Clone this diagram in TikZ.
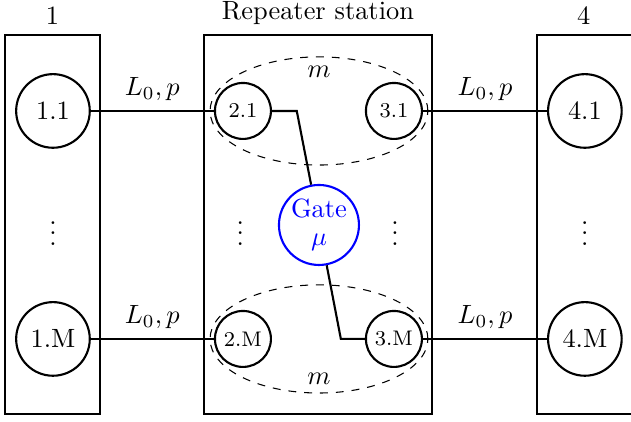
\documentclass[tikz,border=0pt]{standalone}
\usepackage{amsmath,amssymb}
\usepackage{tikz}
\usetikzlibrary{shapes.geometric,positioning,calc}
\usepackage{xcolor}
\tikzset{
    % Station boxes, sharp corners
    stationbox/.style={
        rectangle,
        draw=black,
        thick,
        minimum height=5.05cm,
        inner sep=0pt
    },
    bigqubit/.style={
        circle,
        draw=black,
        thick,
        minimum size=0.98cm,
        inner sep=0pt,
        font=\normalsize
    },
    smallqubit/.style={
        circle,
        draw=black,
        thick,
        minimum size=0.745cm,
        inner sep=0pt,
        font=\footnotesize
    },
    gatenode/.style={
        circle,
        draw=blue,
        text=blue,
        thick,
        minimum size=1.065cm,
        inner sep=0pt,
        align=center
    },
    groupellipse/.style={
        ellipse,
        draw=black,
        dashed,
        thin,
        minimum width=2.9cm,
        minimum height=1.44cm,
        inner sep=0pt
    },
    link/.style={
        thick,
        color=black
    }
}

\begin{document}
\begin{tikzpicture}
            \useasboundingbox (0,0) rectangle (8.40,-5.617);
            \clip (0,0) rectangle (8.40,-5.617);

            % Stations
            \node[stationbox, minimum width=1.264cm] (st1) at (0.699,-2.9915) {};
            \node[stationbox, minimum width=3.034cm] (st2) at (4.233,-2.9915) {};
            \node[stationbox, minimum width=2cm] (st4) at (8.15,-2.9915) {};

            % Station labels
            \node[above=0pt of st1] (st1label) {1};
            \node[above=0pt of st2] (st2label) {Repeater station};
            \node[above=0pt of st4.north west, xshift=0.636cm, anchor=south] (st4label) {4};

            % Memory groups inside the repeater
            \node[groupellipse] (grp1) at (4.246,-1.477) {};
            \node[groupellipse] (grp2) at (4.246,-4.512) {};
            \node[below=0pt of grp1.north] (grp1label) {$m$};
            \node[above=0pt of grp2.south] (grp2label) {$m$};

            % Qubits, first row
            \node[bigqubit] (q11) at (0.705,-1.477) {1.1};
            \node[smallqubit] (q21) at (3.234,-1.477) {2.1};
            \node[smallqubit] (q31) at (5.244,-1.477) {3.1};
            \node[bigqubit] (q41) at (7.786,-1.477) {4.1};

            % Qubits, last row
            \node[bigqubit] (q1M) at (0.705,-4.512) {1.M};
            \node[smallqubit] (q2M) at (3.234,-4.512) {2.M};
            \node[smallqubit] (q3M) at (5.244,-4.512) {3.M};
            \node[bigqubit] (q4M) at (7.786,-4.512) {4.M};

            % Dots
            \node (dots1) at (0.705,-3.0) {$\vdots$};
            \node (dots2) at (3.2,-3.0) {$\vdots$};
            \node (dots3) at (5.26,-3.0) {$\vdots$};
            \node (dots4) at (7.786,-3.0) {$\vdots$};

            % Gate
            \node[gatenode] (gate) at (4.246,-2.995) {Gate\\[-1.5pt]$\mu$};

            % Links
            \draw[link] (q11) -- node[above] (lab1) {$L_0,p$} (q21);
            \draw[link] (q31) -- node[above] (lab2) {$L_0,p$} (q41);
            \draw[link] (q1M) -- node[above] (lab3) {$L_0,p$} (q2M);
            \draw[link] (q3M) -- node[above] (lab4) {$L_0,p$} (q4M);

            % Wires to the gate
            \draw[link] (q21.east) -- ++(0.33,0) -- (gate);
            \draw[link] (q3M.west) -- ++(-0.32,0) -- (gate);
        \end{tikzpicture}
\end{document}
